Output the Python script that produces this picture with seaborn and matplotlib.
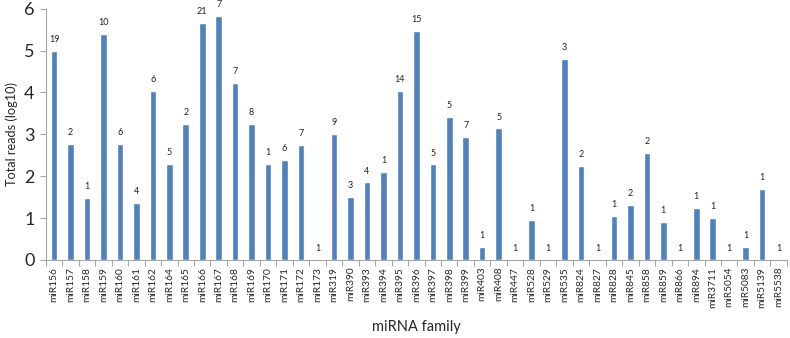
import matplotlib
matplotlib.use("Agg")
import matplotlib.pyplot as plt
import seaborn as sns
import numpy as np
import pandas as pd

families = ["miR156", "miR157", "miR158", "miR159", "miR160", "miR161", "miR162", "miR164",
            "miR165", "miR166", "miR167", "miR168", "miR169", "miR170", "miR171", "miR172",
            "miR173", "miR319", "miR390", "miR393", "miR394", "miR395", "miR396", "miR397",
            "miR398", "miR399", "miR403", "miR408", "miR447", "miR528", "miR529", "miR535",
            "miR824", "miR827", "miR828", "miR845", "miR858", "miR859", "miR866", "miR894",
            "miR3711", "miR5054", "miR5083", "miR5139", "miR5538"]
reads_log10 = [5.00, 2.77, 1.49, 5.39, 2.78, 1.36, 4.04, 2.29,
               3.25, 5.66, 5.83, 4.22, 3.25, 2.29, 2.39, 2.74,
               0.0, 3.01, 1.50, 1.85, 2.11, 4.03, 5.48, 2.28,
               3.41, 2.94, 0.30, 3.14, 0.0, 0.95, 0.0, 4.80,
               2.24, 0.0, 1.04, 1.32, 2.55, 0.90, 0.0, 1.23,
               1.00, 0.0, 0.30, 1.69, 0.0]
member_counts = [19, 2, 1, 10, 6, 4, 6, 5,
                 2, 21, 7, 7, 8, 1, 6, 7,
                 1, 9, 3, 4, 1, 14, 15, 5,
                 5, 7, 1, 5, 1, 1, 1, 3,
                 2, 1, 1, 2, 2, 1, 1, 1,
                 1, 1, 1, 1, 1]
y_ticks = [0, 1, 2, 3, 4, 5, 6]

df = pd.DataFrame({"family": families, "reads": reads_log10})

sns.set_style("white")
plt.rcParams["font.family"] = ["Lato", "DejaVu Sans"]

fig = plt.figure(figsize=(7.9, 3.38), dpi=100)
ax = fig.add_axes([0.058, 0.231, 0.938, 0.743])

sns.barplot(data=df, x="family", y="reads", color="#4F81BD", width=0.4,
            saturation=1, ax=ax)

ax.bar_label(ax.containers[0], labels=[str(c) for c in member_counts],
             padding=5, fontsize=6.5, color="#222222")

ax.set_xlim(-0.5, len(families) - 0.5)
ax.set_ylim(0, 6)
ax.set_yticks(y_ticks)
ax.tick_params(axis="y", labelsize=13, length=4, width=0.8, color="#A6A6A6",
               direction="out", left=True, pad=4)
ax.set_xticks(range(len(families)))
ax.set_xticklabels(families, rotation=90, fontsize=7.3)
ax.set_xticks(np.arange(-0.5, len(families), 1), minor=True)
ax.tick_params(axis="x", which="major", length=0, pad=5)
ax.tick_params(axis="x", which="minor", length=4, width=0.8, color="#A6A6A6",
               bottom=True, direction="out")

for side in ["top", "right"]:
    ax.spines[side].set_visible(False)
for side in ["left", "bottom"]:
    ax.spines[side].set_color("#A6A6A6")
    ax.spines[side].set_linewidth(0.8)

ax.set_xlabel("miRNA family", fontsize=10.5)
ax.set_ylabel("Total reads (log10)", fontsize=9.2)
ax.xaxis.set_label_coords(0.5, -60 / 251.3)
ax.yaxis.set_label_coords(-28 / 741, 0.5)

fig.savefig("out.png", dpi=100)
